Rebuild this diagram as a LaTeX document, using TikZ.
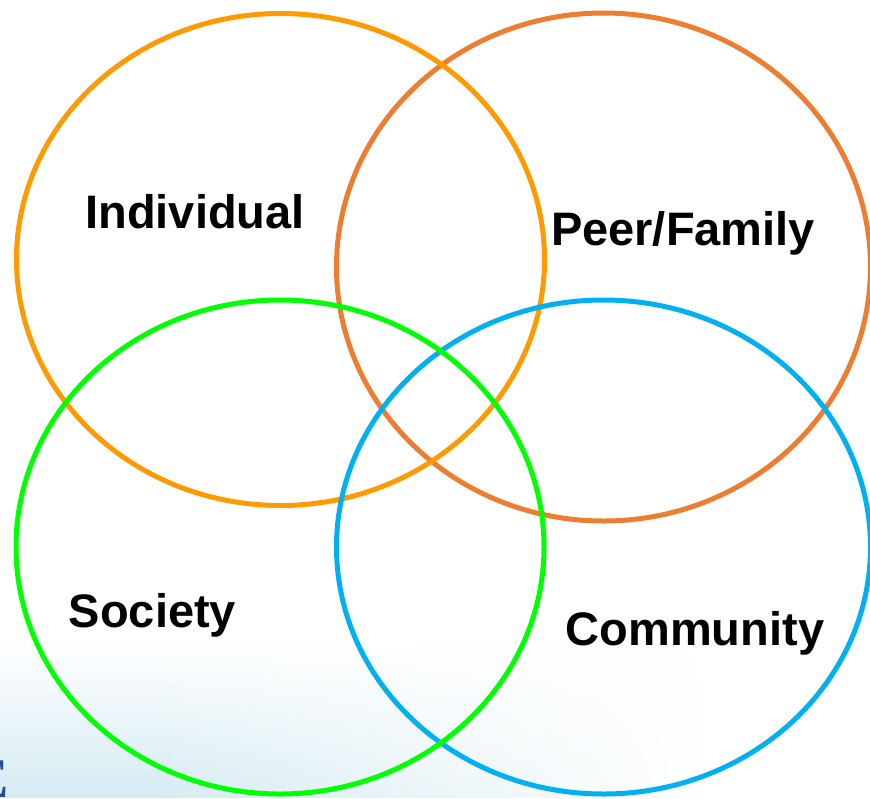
\documentclass[tikz,border=0pt]{standalone}
\usepackage{fontspec}
\setmainfont{Liberation Sans}
\newfontfamily\efont{Liberation Serif}
\usetikzlibrary{fadings}
\definecolor{cOrange}{HTML}{FF9A00}
\definecolor{cPeer}{HTML}{ED7D31}
\definecolor{cGreen}{HTML}{00FF00}
\definecolor{cBlue}{HTML}{00B0F0}
\definecolor{cBg}{HTML}{D6EBF3}
\definecolor{cE}{HTML}{1F4E99}
\begin{document}
\begin{tikzpicture}[x=1pt,y=-1pt,
  ring/.style={line width=5pt},
  lbl/.style={font=\fontsize{47}{50}\selectfont\bfseries, anchor=base, inner sep=0pt}]
\useasboundingbox (0,0) rectangle (870,798);
\clip (0,0) rectangle (870,798);
% background tint bottom-left
\fill[cBg, path fading=north] (0,640) rectangle (700,798);
\fill[white, path fading=west] (150,630) rectangle (701,799);
\node[font=\fontsize{56}{60}\selectfont\bfseries\efont, text=cE, anchor=base east, inner sep=0pt] (e) at (9,797) {E};
% rings
\draw[ring, cPeer] (603.5,267) ellipse [x radius=267, y radius=254];
\draw[ring, cOrange] (280.5,259.5) ellipse [x radius=264, y radius=246];
\draw[ring, cBlue] (603.5,547) ellipse [x radius=267, y radius=247];
\draw[ring, cGreen] (280,547) ellipse [x radius=264, y radius=247];
% labels
\node[lbl] (ind) at (195,228) {Individual};
\node[lbl] (peer) at (683,245) {Peer/Family};
\node[lbl] (soc) at (152.5,627) {Society};
\node[lbl] (com) at (695,645) {Community};
\end{tikzpicture}
\end{document}
